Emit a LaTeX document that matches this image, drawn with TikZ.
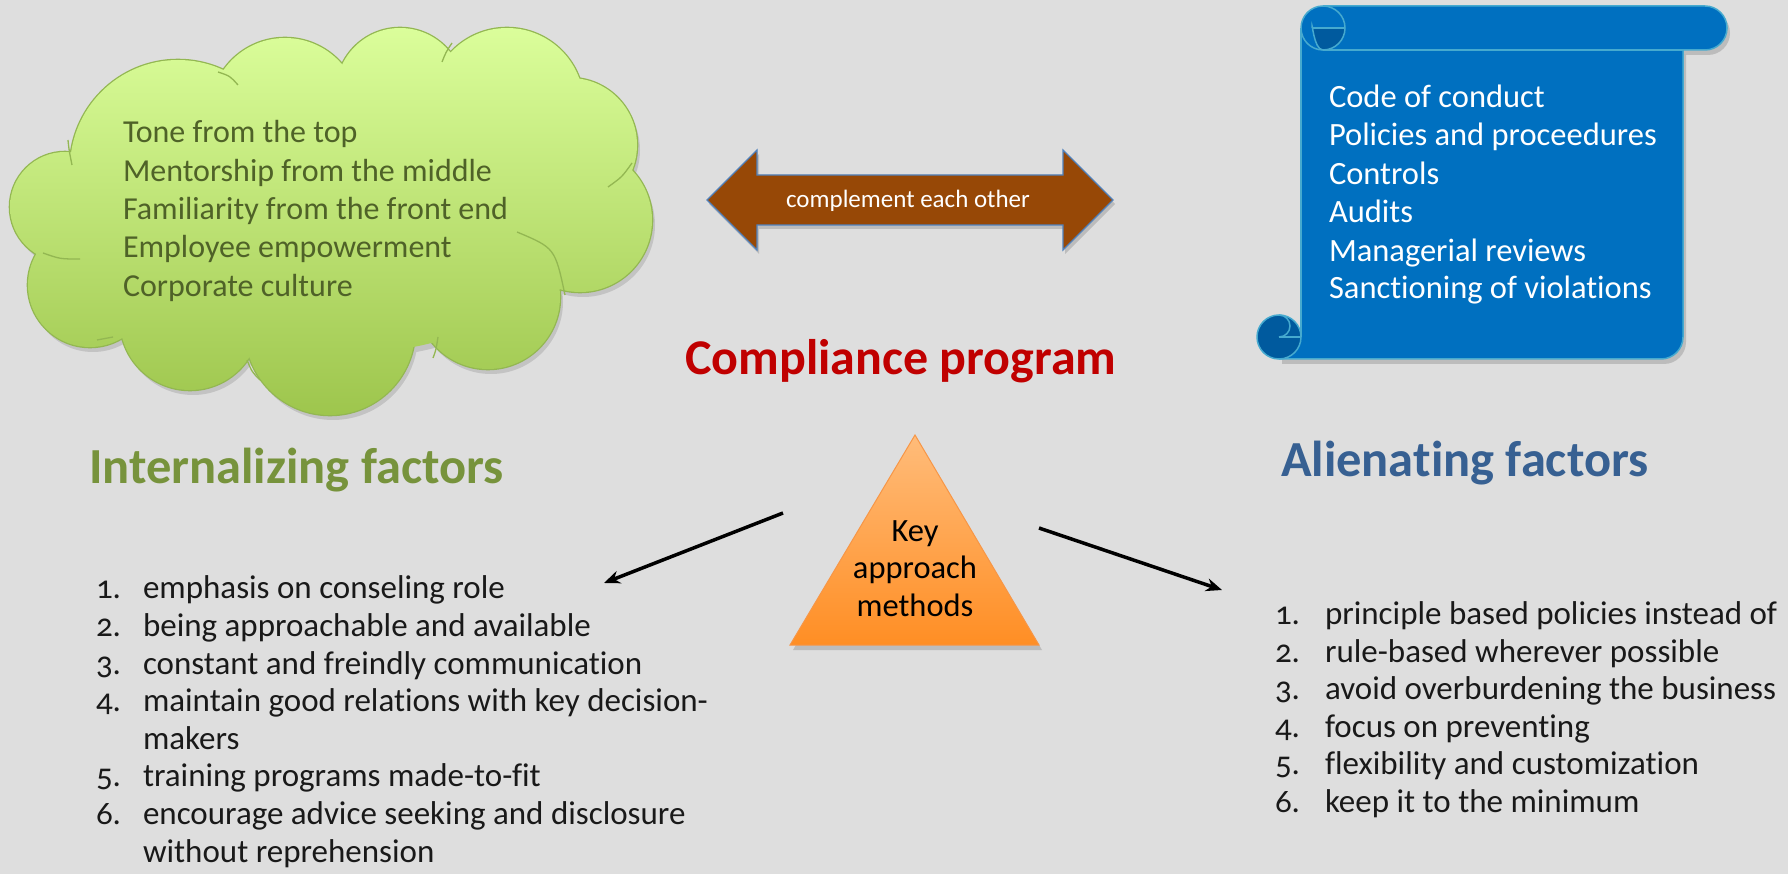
\documentclass[tikz,border=0pt]{standalone}
\usepackage{fontspec}
\setmainfont{Carlito}[Ligatures={TeX,NoCommon}]
\usetikzlibrary{arrows.meta,calc}
\definecolor{bg}{HTML}{DEDEDE}
\definecolor{cloudtop}{HTML}{DCFF9C}
\definecolor{cloudbot}{HTML}{9DC54C}
\definecolor{cloudline}{HTML}{93B752}
\definecolor{cloudtext}{HTML}{4F6228}
\definecolor{scrollblue}{HTML}{0070C0}
\definecolor{scrolldark}{HTML}{005A9E}
\definecolor{scrollline}{HTML}{46AACF}
\definecolor{brownarrow}{HTML}{974806}
\definecolor{arrowline}{HTML}{4F81BD}
\definecolor{trtop}{HTML}{FFBC7A}
\definecolor{trbot}{HTML}{FF8E24}
\definecolor{trline}{HTML}{F79646}
\definecolor{compred}{HTML}{C00000}
\definecolor{intgreen}{HTML}{77933C}
\definecolor{alienblue}{HTML}{376092}
\newcommand{\setfs}[1]{\fontsize{#1}{#1}\selectfont}
\def\cloudlist{65/207/55, 178/168/108, 285/113/75, 400/92/64, 507/105/77, 570/145/67, 580/220/72, 488/297/72, 330/330/85, 190/320/70, 90/285/62}
\begin{document}
\begin{tikzpicture}[x=1pt,y=-1pt,
  every node/.style={inner sep=0pt,outer sep=0pt},
  cloudtxt/.style={anchor=base west,text=cloudtext,font=\setfs{32}},
  scrolltxt/.style={anchor=base west,text=white,font=\setfs{32.5}},
  listnum/.style={anchor=base west,text=black!90,font=\setfs{33}\addfontfeatures{Numbers=OldStyle}},
  listtxt/.style={anchor=base west,text=black!90,font=\setfs{33}},
  heading/.style={anchor=base west,font=\bfseries\setfs{50.5}},
  pointer/.style={line width=3.5pt,-{Stealth[length=16pt,width=13pt]}}]
\useasboundingbox (0,0) rectangle (1788,874);
\fill[bg] (0,0) rectangle (1788,874);
% ---------------- cloud ----------------
\begin{scope}[shift={(3,5)}]
  \fill[black,opacity=0.12] foreach \a/\b/\c in \cloudlist {(\a,\b) circle[radius=\c]} (330,215) ellipse[x radius=250,y radius=140];
\end{scope}
\draw[cloudline,line width=2.6pt] foreach \a/\b/\c in \cloudlist {(\a,\b) circle[radius=\c]};
\begin{scope}
  \clip foreach \a/\b/\c in \cloudlist {(\a,\b) circle[radius=\c]} (330,215) ellipse[x radius=250,y radius=140];
  \shade[top color=cloudtop,bottom color=cloudbot] (0,20) rectangle (700,420);
\end{scope}
\draw[cloudline,line width=1.3pt] (68,140) .. controls (69,150) .. (72,165);
\draw[cloudline,line width=1.3pt] (218,72) .. controls (230,76) .. (238,85);
\draw[cloudline,line width=1.3pt] (452,43) .. controls (446,52) .. (442,62);
\draw[cloudline,line width=1.3pt] (632,163) .. controls (622,177) .. (608,187);
\draw[cloudline,line width=1.3pt] (517,232) .. controls (555,248) .. (565,295);
\draw[cloudline,line width=1.3pt] (438,337) .. controls (436,350) .. (433,358);
\draw[cloudline,line width=1.3pt] (247,360) .. controls (252,372) .. (260,380);
\draw[cloudline,line width=1.3pt] (43,253) .. controls (60,259) .. (80,259);
\draw[cloudline,line width=1.3pt] (97,340) -- (113,337);
\node[cloudtxt] (c1) at (123,143) {Tone from the top};
\node[cloudtxt] (c2) at (123,182) {Mentorship from the middle};
\node[cloudtxt] (c3) at (123,220) {Familiarity from the front end};
\node[cloudtxt] (c4) at (123,258) {Employee empowerment};
\node[cloudtxt] (c5) at (123,297) {Corporate culture};
% ---------------- scroll ----------------
\begin{scope}[shift={(3,5)}]
  \fill[black,opacity=0.15,rounded corners=22pt] (1301,6) rectangle (1727,50);
  \fill[black,opacity=0.15] (1301,50) -- (1683,50) -- (1683,337) arc[start angle=0,end angle=90,radius=22] -- (1279,359) -- (1279,337) -- (1301,337) -- cycle;
\end{scope}
\fill[scrollblue,rounded corners=22pt] (1301,6) rectangle (1727,50);
\fill[scrollblue] (1301,28) -- (1683,28) -- (1683,337) arc[start angle=0,end angle=90,radius=22] -- (1279,359) -- (1279,337) -- (1301,337) -- cycle;
\fill[scrolldark] (1279,337) circle[radius=22];
\fill[scrolldark] (1312,28) -- (1345,28) arc[start angle=0,end angle=90,radius=22] to[out=180,in=90] (1312,28);
\begin{scope}[scrollline,line width=1.5pt]
  \draw (1323,6) -- (1705,6) arc[start angle=-90,end angle=90,radius=22] -- (1683,50);
  \draw (1323,28) circle[radius=22];
  \draw (1323,50) -- (1683,50);
  \draw (1301,28) -- (1301,337);
  \draw (1683,50) -- (1683,337) arc[start angle=0,end angle=90,radius=22] -- (1279,359);
  \draw (1279,337) circle[radius=22];
  \draw (1312,28) -- (1345,28);
  \draw (1323,50) to[out=180,in=90] (1312,28);
  \draw (1279,337) -- (1301,337);
  \draw (1279,337) arc[start angle=90,end angle=-90,radius=11];
\end{scope}
\node[scrolltxt] (s1) at (1329,108) {Code of conduct};
\node[scrolltxt] (s2) at (1329,146) {Policies and proceedures};
\node[scrolltxt] (s3) at (1329,185) {Controls};
\node[scrolltxt] (s4) at (1329,223) {Audits};
\node[scrolltxt] (s5) at (1329,262) {Managerial reviews};
\node[scrolltxt] (s6) at (1329,299) {Sanctioning of violations};
% ---------------- double arrow ----------------
\begin{scope}[shift={(2,4)}]
  \fill[black,opacity=0.15] (707,200) -- (757,150) -- (757,175) -- (1063,175) -- (1063,150) -- (1113,200) -- (1063,250) -- (1063,225) -- (757,225) -- (757,250) -- cycle;
\end{scope}
\filldraw[fill=brownarrow,draw=arrowline,line width=1.2pt,line join=miter] (707,200) -- (757,150) -- (757,175) -- (1063,175) -- (1063,150) -- (1113,200) -- (1063,250) -- (1063,225) -- (757,225) -- (757,250) -- cycle;
\node[anchor=base,text=white,font=\setfs{25}] (comp) at (908,208) {complement each other};
% ---------------- title ----------------
\node[anchor=base,text=compred,font=\bfseries\setfs{50}] (title) at (901,374) {Compliance program};
% ---------------- triangle ----------------
\fill[black,opacity=0.15] (917,440) -- (1042,650) -- (793,650) -- cycle;
\shade[top color=trtop,bottom color=trbot,draw=trline,line width=1pt] (915,435) -- (1039,645) -- (790,645) -- cycle;
\node[anchor=base,font=\setfs{32.5}] (k1) at (915,541) {Key};
\node[anchor=base,font=\setfs{32.5}] (k2) at (915,578) {approach};
\node[anchor=base,font=\setfs{32.5}] (k3) at (915,616) {methods};
% ---------------- headings ----------------
\node[heading,text=intgreen] (hint) at (89,483) {Internalizing factors};
\node[heading,text=alienblue] (hali) at (1281,476) {Alienating factors};
% ---------------- pointers ----------------
\coordinate (la) at (783,513);
\coordinate (lb) at (604,583);
\coordinate (ra) at (1039,528);
\coordinate (rb) at (1222,590);
\draw[pointer] (la) -- (lb);
\draw[pointer] (ra) -- (rb);
% ---------------- left list ----------------
\node[listnum] (ln1) at (96,598) {1.};
\node[listtxt] (lt1) at (143,598) {emphasis on conseling role};
\node[listnum] (ln2) at (96,636) {2.};
\node[listtxt] (lt2) at (143,636) {being approachable and available};
\node[listnum] (ln3) at (96,674) {3.};
\node[listtxt] (lt3) at (143,674) {constant and freindly communication};
\node[listnum] (ln4) at (96,711) {4.};
\node[listtxt] (lt4) at (143,711) {maintain good relations with key decision-};
\node[listtxt] (lt4b) at (143,749) {makers};
\node[listnum] (ln5) at (96,786) {5.};
\node[listtxt] (lt5) at (143,786) {training programs made-to-fit};
\node[listnum] (ln6) at (96,824) {6.};
\node[listtxt] (lt6) at (143,824) {encourage advice seeking and disclosure};
\node[listtxt] (lt6b) at (143,862) {without reprehension};
% ---------------- right list ----------------
\node[listnum] (rn1) at (1275,624) {1.};
\node[listtxt] (rt1) at (1325,624) {principle based policies instead of};
\node[listnum] (rn2) at (1275,662) {2.};
\node[listtxt] (rt2) at (1325,662) {rule-based wherever possible};
\node[listnum] (rn3) at (1275,699) {3.};
\node[listtxt] (rt3) at (1325,699) {avoid overburdening the business};
\node[listnum] (rn4) at (1275,737) {4.};
\node[listtxt] (rt4) at (1325,737) {focus on preventing};
\node[listnum] (rn5) at (1275,774) {5.};
\node[listtxt] (rt5) at (1325,774) {flexibility and customization};
\node[listnum] (rn6) at (1275,812) {6.};
\node[listtxt] (rt6) at (1325,812) {keep it to the minimum};
\end{tikzpicture}
\end{document}
